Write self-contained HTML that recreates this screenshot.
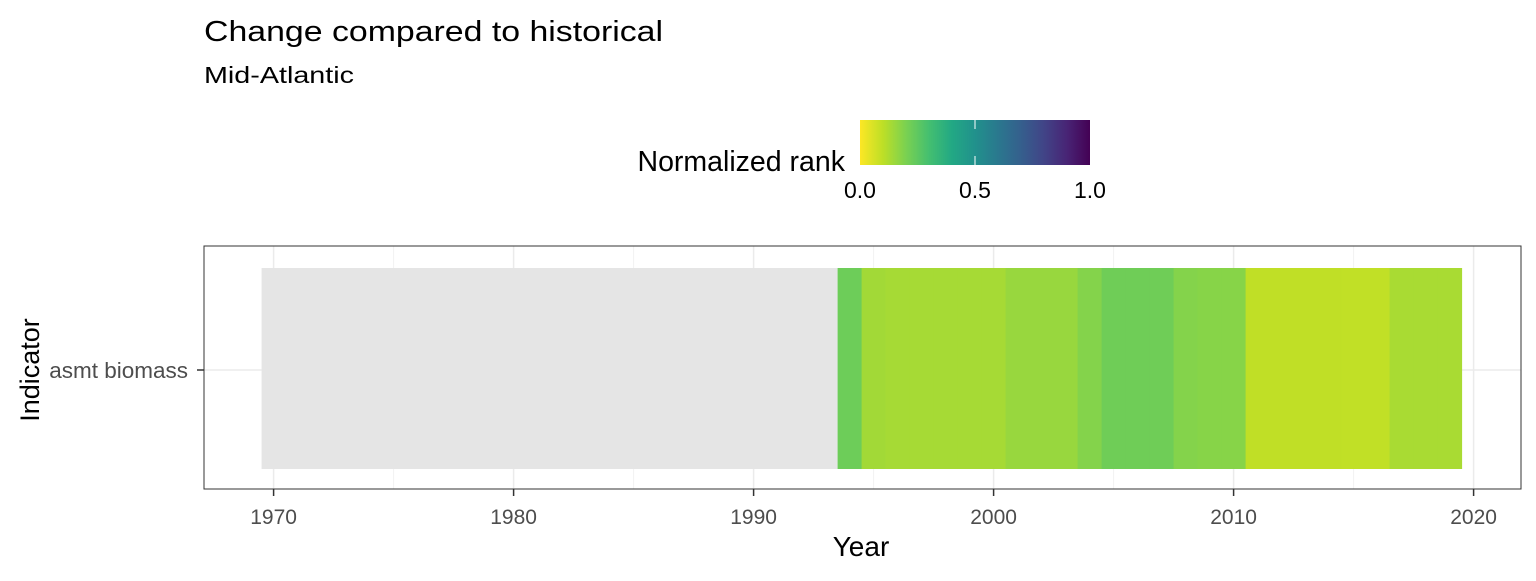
<!DOCTYPE html>
<html><head><meta charset="utf-8"><style>
body{margin:0;background:#fff;}
svg text{font-family:"Liberation Sans",Arial,sans-serif;}
</style></head><body>
<svg id="chart" width="1536" height="576" xmlns="http://www.w3.org/2000/svg">
<defs>
<linearGradient id="vir" x1="0" x2="1" y1="0" y2="0">
<stop offset="0" stop-color="#FDE725"/><stop offset="0.1" stop-color="#BDDF26"/><stop offset="0.2" stop-color="#7AD151"/><stop offset="0.3" stop-color="#44BF70"/><stop offset="0.4" stop-color="#22A884"/><stop offset="0.5" stop-color="#21918C"/><stop offset="0.6" stop-color="#2A788E"/><stop offset="0.7" stop-color="#355F8D"/><stop offset="0.8" stop-color="#414487"/><stop offset="0.9" stop-color="#482475"/><stop offset="1" stop-color="#440154"/>
</linearGradient>
</defs>
<text x="204" y="41" font-size="29" fill="#000" textLength="459" lengthAdjust="spacingAndGlyphs">Change compared to historical</text>
<text x="204" y="83" font-size="23" fill="#000" textLength="150" lengthAdjust="spacingAndGlyphs">Mid-Atlantic</text>
<g>
<text x="845" y="171" font-size="28.5" text-anchor="end" fill="#000">Normalized rank</text>
<rect x="860" y="120" width="230" height="45" fill="url(#vir)"/>
<line x1="975" y1="120" x2="975" y2="129" stroke="#fff" stroke-width="1"/>
<line x1="975" y1="156" x2="975" y2="165" stroke="#fff" stroke-width="1"/>
<text x="860" y="198" font-size="23" text-anchor="middle">0.0</text>
<text x="975" y="198" font-size="23" text-anchor="middle">0.5</text>
<text x="1090" y="198" font-size="23" text-anchor="middle">1.0</text>
</g>
<g id="grid"></g>
<g id="tiles"></g>
<rect x="204" y="246" width="1317" height="243" fill="none" stroke="#333" stroke-width="1"/>
<g id="axes"></g>
<text x="188" y="378" font-size="22.5" text-anchor="end" fill="#4d4d4d">asmt biomass</text>
<line x1="197" y1="370" x2="204" y2="370" stroke="#333" stroke-width="1.5"/>
<text transform="translate(39,370) rotate(-90)" font-size="27" text-anchor="middle">Indicator</text>
<text x="861" y="556" font-size="28" text-anchor="middle">Year</text>
</svg>
<script>
const years = [1994,1995,1996,1997,1998,1999,2000,2001,2002,2003,2004,2005,2006,2007,2008,2009,2010,2011,2012,2013,2014,2015,2016,2017,2018,2019];
const ranks = [0.225,0.14,0.135,0.135,0.135,0.135,0.135,0.155,0.155,0.155,0.185,0.22,0.22,0.22,0.185,0.18,0.18,0.095,0.095,0.095,0.095,0.093,0.093,0.13,0.13,0.13];
const histStart = 1970, histEnd = 1993;
const xTicks = [1970,1980,1990,2000,2010,2020];
const xMinor = [1975,1985,1995,2005,2015];
const NS='http://www.w3.org/2000/svg';
const x = y => 273.6 + (y-1970)*24.0;
const stops=['#FDE725','#BDDF26','#7AD151','#44BF70','#22A884','#21918C','#2A788E','#355F8D','#414487','#482475','#440154'];
function hx(c){return [1,3,5].map(i=>parseInt(c.substr(i,2),16));}
function col(r){r=Math.max(0,Math.min(1,r))*10;const i=Math.min(9,Math.floor(r)),t=r-i;const a=hx(stops[i]),b=hx(stops[i+1]);return 'rgb('+a.map((v,k)=>Math.round(v+(b[k]-v)*t)).join(',')+')';}
function mk(tag,attrs,parent){const e=document.createElementNS(NS,tag);for(const k in attrs)e.setAttribute(k,attrs[k]);parent.appendChild(e);return e;}
const grid=document.getElementById('grid'),tiles=document.getElementById('tiles'),axes=document.getElementById('axes');
xMinor.forEach(v=>{const l=mk('line',{x1:x(v),x2:x(v),y1:246,y2:489,stroke:'#f2f2f2','stroke-width':1},grid);

});
xTicks.forEach(v=>{const l=mk('line',{x1:x(v),x2:x(v),y1:246,y2:489,stroke:'#ebebeb','stroke-width':1.5},grid);


const t=mk('line',{x1:x(v),x2:x(v),y1:489,y2:496,stroke:'#333','stroke-width':1.5},axes);


const tx=mk('text',{x:x(v),y:524,'font-size':21,'text-anchor':'middle',fill:'#4d4d4d'},axes);tx.textContent=v;

});
const hl=mk('line',{x1:204,x2:1521,y1:370,y2:370,stroke:'#ebebeb','stroke-width':1.5},grid);


const g=mk('rect',{x:x(histStart-0.5),y:268,width:x(histEnd+0.5)-x(histStart-0.5),height:201,fill:'#e5e5e5'},tiles);


years.forEach((yr,i)=>{const r=mk('rect',{x:x(yr-0.5),y:268,width:x(yr+0.5)-x(yr-0.5)+0.5,height:201,fill:col(ranks[i])},tiles);

});
</script>
</body></html>
